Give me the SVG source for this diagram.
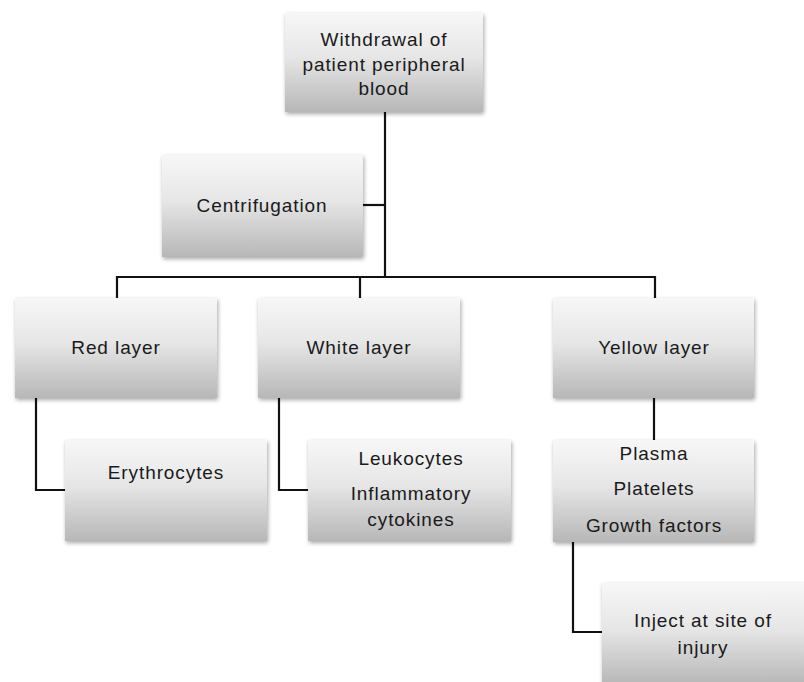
<svg xmlns="http://www.w3.org/2000/svg" width="804" height="682" viewBox="0 0 804 682">
<defs>
<linearGradient id="g" x1="0" y1="0" x2="0" y2="1">
<stop offset="0" stop-color="#f7f7f7"/>
<stop offset="0.45" stop-color="#e6e6e6"/>
<stop offset="1" stop-color="#b7b7b7"/>
</linearGradient>
<filter id="sh" x="-10%" y="-10%" width="125%" height="130%">
<feGaussianBlur in="SourceAlpha" stdDeviation="2"/>
<feOffset dx="1" dy="2" result="b"/>
<feComponentTransfer><feFuncA type="linear" slope="0.35"/></feComponentTransfer>
<feMerge><feMergeNode/><feMergeNode in="SourceGraphic"/></feMerge>
</filter>
</defs>
<style>
.box{fill:url(#g);filter:url(#sh);}
.t{font-family:"Liberation Sans","Open Sans",sans-serif;font-size:19px;fill:#1a1a1a;text-anchor:middle;letter-spacing:0.9px;}
.c{fill:none;stroke:#111;stroke-width:2.2;}
</style>
<rect width="804" height="682" fill="#fff"/>
<g id="connectors">
<path class="c" d="M385,112 V277"/>
<path class="c" d="M363,205 H385"/>
<path class="c" d="M117,298 V277 H655 V298"/>
<path class="c" d="M360,277 V298"/>
<path class="c" d="M36,398 V490 H65"/>
<path class="c" d="M279,398 V490 H308"/>
<path class="c" d="M654,398 V440"/>
<path class="c" d="M573,542 V632 H602"/>
</g>
<g id="withdrawal">
<rect class="box" x="285" y="13" width="198" height="99"/>
<text class="t" x="384" y="46">Withdrawal of</text>
<text class="t" x="384" y="71">patient peripheral</text>
<text class="t" x="384" y="95">blood</text>
</g>
<g id="centrifugation">
<rect class="box" x="162" y="155" width="201" height="102"/>
<text class="t" x="262" y="212">Centrifugation</text>
</g>
<g id="red">
<rect class="box" x="15" y="298" width="202" height="100"/>
<text class="t" x="116" y="354">Red layer</text>
</g>
<g id="white">
<rect class="box" x="258" y="298" width="202" height="100"/>
<text class="t" x="359" y="354">White layer</text>
</g>
<g id="yellow">
<rect class="box" x="553" y="298" width="201" height="100"/>
<text class="t" x="654" y="354">Yellow layer</text>
</g>
<g id="erythrocytes">
<rect class="box" x="65" y="440" width="202" height="101"/>
<text class="t" x="166" y="479">Erythrocytes</text>
</g>
<g id="leukocytes">
<rect class="box" x="308" y="440" width="203" height="101"/>
<text class="t" x="411" y="465">Leukocytes</text>
<text class="t" x="411" y="500">Inflammatory</text>
<text class="t" x="411" y="526">cytokines</text>
</g>
<g id="plasma">
<rect class="box" x="553" y="440" width="201" height="102"/>
<text class="t" x="654" y="460">Plasma</text>
<text class="t" x="654" y="495">Platelets</text>
<text class="t" x="654" y="532">Growth factors</text>
</g>
<g id="inject">
<rect class="box" x="602" y="583" width="204" height="102"/>
<text class="t" x="703" y="627">Inject at site of</text>
<text class="t" x="703" y="654">injury</text>
</g>
</svg>
